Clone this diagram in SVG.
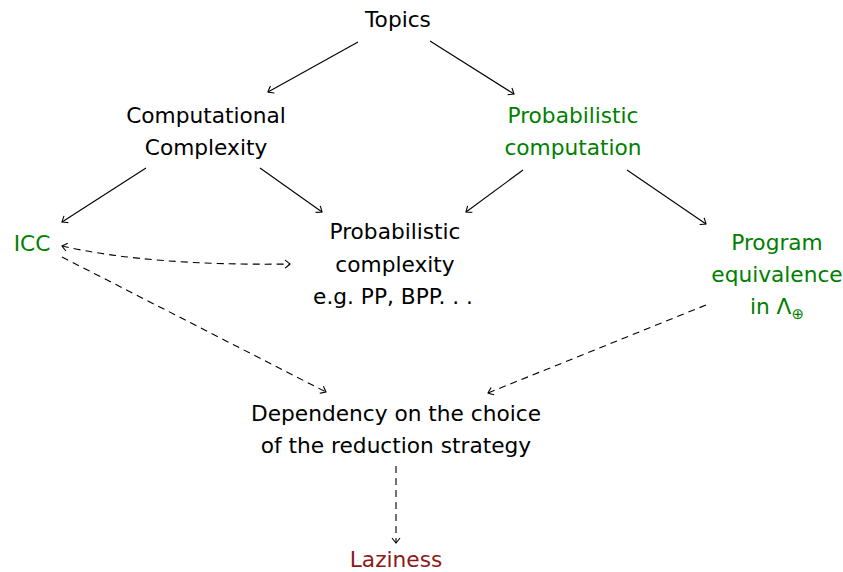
<svg xmlns="http://www.w3.org/2000/svg" width="843" height="572" viewBox="0 0 843 572">
<style>
text{font-family:"DejaVu Sans","Liberation Sans",sans-serif;font-size:21.7px;text-anchor:middle;fill:#000}
.g{fill:#008000}
.r{fill:#8b1a1a}
.e{fill:none;stroke:#000;stroke-width:1.1}
.d{stroke-dasharray:7 5}
</style>
<defs>
<marker id="a" viewBox="-6 -5 8 10" markerWidth="8" markerHeight="10" refX="0" refY="0" orient="auto-start-reverse" markerUnits="userSpaceOnUse">
<path d="M-5,-4 Q-1,-1 0,0 Q-1,1 -5,4" fill="none" stroke="#000" stroke-width="1.1"/>
</marker>
</defs>
<rect width="843" height="572" fill="#fff"/>
<g id="topics"><text x="398" y="27">Topics</text></g>
<g id="compcomp"><text x="206" y="123">Computational</text><text x="206" y="155">Complexity</text></g>
<g id="probcomp"><text class="g" x="573" y="123">Probabilistic</text><text class="g" x="573" y="155">computation</text></g>
<g id="icc"><text class="g" x="32" y="251">ICC</text></g>
<g id="probcomplexity"><text x="395" y="239">Probabilistic</text><text x="395" y="272">complexity</text><text x="393" y="304">e.g.  PP, BPP. . .</text></g>
<g id="progeq"><text class="g" x="777" y="250">Program</text><text class="g" x="777" y="282">equivalence</text><text class="g" x="777" y="314">in Λ<tspan font-size="15" dy="5">⊕</tspan></text></g>
<g id="dependency"><text x="396" y="421">Dependency on the choice</text><text x="396" y="453">of the reduction strategy</text></g>
<g id="laziness"><text class="r" x="396" y="567">Laziness</text></g>
<g id="connectors">
<path class="e" d="M358,42 L268,92" marker-end="url(#a)"/>
<path class="e" d="M430,41 L514,94" marker-end="url(#a)"/>
<path class="e" d="M146,168 L62,222" marker-end="url(#a)"/>
<path class="e" d="M260,168 L322,212" marker-end="url(#a)"/>
<path class="e" d="M523,170 L466,212" marker-end="url(#a)"/>
<path class="e" d="M627,170 L706,224" marker-end="url(#a)"/>
<path class="e d" d="M62,246 Q150,266 290,264" marker-start="url(#a)" marker-end="url(#a)"/>
<path class="e d" d="M62,257 L326,392" marker-end="url(#a)"/>
<path class="e d" d="M706,305 L488,393" marker-end="url(#a)"/>
<path class="e d" d="M396,466 L396,543" marker-end="url(#a)"/>
</g>
</svg>
